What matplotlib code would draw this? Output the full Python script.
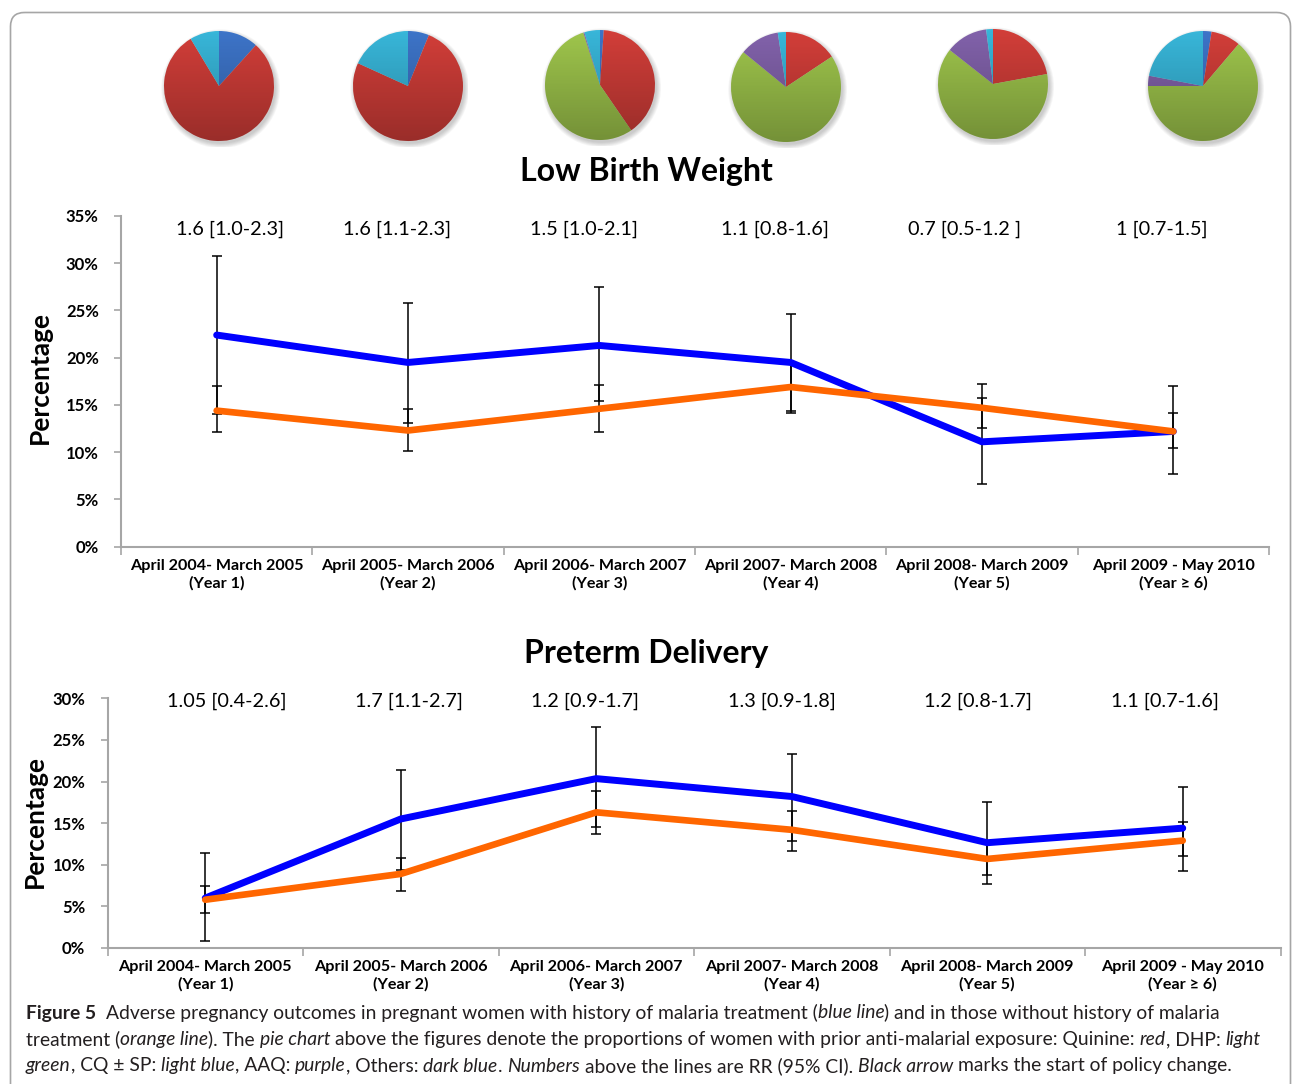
import numpy as np
import matplotlib.pyplot as plt
from matplotlib.patches import Circle, FancyBboxPatch

W, H = 1292, 1084

periods = [
    "April 2004- March 2005\n(Year 1)",
    "April 2005- March 2006\n(Year 2)",
    "April 2006- March 2007\n(Year 3)",
    "April 2007- March 2008\n(Year 4)",
    "April 2008- March 2009\n(Year 5)",
    "April 2009 - May 2010\n(Year \u2265 6)",
]

# share of women per drug with prior anti-malarial exposure, per period (%)
others = [11.7, 6.2, 1.1, 0.0, 0.0, 2.5]
quinine = [79.7, 75.6, 39.3, 15.7, 22.1, 8.7]
dhp = [0.0, 0.0, 54.7, 70.3, 63.5, 63.8]
aaq = [0.0, 0.0, 0.3, 11.7, 12.4, 3.0]
cq_sp = [8.6, 18.2, 4.6, 2.4, 2.0, 22.0]

# low birth weight (%), with / without malaria treatment history, with 95% CI
lbw_with = [22.4, 19.5, 21.3, 19.5, 11.1, 12.2]
lbw_with_lo = [14.0, 13.1, 15.4, 14.4, 6.6, 7.7]
lbw_with_hi = [30.8, 25.8, 27.5, 24.6, 15.7, 17.0]
lbw_without = [14.4, 12.3, 14.6, 16.9, 14.7, 12.2]
lbw_without_lo = [12.1, 10.1, 12.1, 14.2, 12.6, 10.4]
lbw_without_hi = [17.0, 14.6, 17.1, 19.5, 17.2, 14.2]
lbw_rr = ["1.6 [1.0-2.3]", "1.6 [1.1-2.3]", "1.5 [1.0-2.1]",
          "1.1 [0.8-1.6]", "0.7 [0.5-1.2 ]", "1 [0.7-1.5]"]

# preterm delivery (%)
ptd_with = [6.0, 15.5, 20.35, 18.2, 12.65, 14.4]
ptd_with_lo = [0.9, 9.4, 14.5, 12.8, 7.7, 9.3]
ptd_with_hi = [11.4, 21.4, 26.5, 23.3, 17.6, 19.4]
ptd_without = [5.8, 8.9, 16.3, 14.2, 10.7, 12.9]
ptd_without_lo = [4.25, 6.8, 13.7, 11.7, 8.8, 11.0]
ptd_without_hi = [7.45, 10.85, 18.9, 16.5, 12.6, 15.1]
ptd_rr = ["1.05 [0.4-2.6]", "1.7 [1.1-2.7]", "1.2 [0.9-1.7]",
          "1.3 [0.9-1.8]", "1.2 [0.8-1.7]", "1.1 [0.7-1.6]"]

pie_colors = ["#3d74c8", "#d23e39", "#9fc64c", "#8262ab", "#38b6d9"]
FONT = ["Lato", "DejaVu Sans"]
GREY = "#a6a6a6"
INK = "#231f20"

plt.rcParams["font.family"] = FONT

fig = plt.figure(figsize=(W / 100, H / 100), dpi=100)


def px_axes(left, top, right, bottom):
    return fig.add_axes([left / W, 1 - bottom / H, (right - left) / W, (bottom - top) / H])


# full-figure axes in pixel units for the frame, titles and caption
bg = fig.add_axes([0, 0, 1, 1])
bg.set_xlim(0, W)
bg.set_ylim(H, 0)
bg.axis("off")
bg.add_patch(FancyBboxPatch((10.5, 12.5), 1280, 1120,
                            boxstyle="round,pad=0,rounding_size=14",
                            fc="none", ec=GREY, lw=1.2))

# pies, clockwise from 12 o'clock, shaded darker towards the bottom
pie_centres = [(219, 86), (408, 86), (600, 85), (786, 87), (993, 84), (1203, 86)]
shade = np.zeros((256, 1, 4))
shade[..., 3] = np.linspace(0.0, 0.27, 256)[:, None]
for i, (cx, cy) in enumerate(pie_centres):
    pax = px_axes(cx - 60.5, cy - 60.5, cx + 60.5, cy + 60.5)
    vals = [others[i], quinine[i], dhp[i], aaq[i], cq_sp[i]]
    for r in np.linspace(1.0, 1.08, 6):
        pax.add_patch(Circle((0.03, -0.05), r, fc="#000000", alpha=0.035, lw=0, zorder=0))
    pax.pie(vals, colors=pie_colors, startangle=90, counterclock=False,
            wedgeprops=dict(linewidth=0))
    disc = Circle((0, 0), 1.0, transform=pax.transData)
    pax.imshow(shade, extent=(-1, 1, -1, 1), aspect="auto", zorder=5, clip_path=disc)
    pax.set_xlim(-1.1, 1.1)
    pax.set_ylim(-1.1, 1.1)
    pax.axis("off")


def draw_chart(ax, ymax, w, w_lo, w_hi, wo, wo_lo, wo_hi, rr, rr_x, rr_y):
    x = np.arange(1, 7)
    w, w_lo, w_hi = map(np.asarray, (w, w_lo, w_hi))
    wo, wo_lo, wo_hi = map(np.asarray, (wo, wo_lo, wo_hi))
    ax.errorbar(x, w, yerr=[w - w_lo, w_hi - w], fmt="none", ecolor="black",
                elinewidth=1.1, capsize=3.3, capthick=1.1, zorder=2)
    ax.errorbar(x, wo, yerr=[wo - wo_lo, wo_hi - wo], fmt="none", ecolor="black",
                elinewidth=1.1, capsize=3.3, capthick=1.1, zorder=2)
    ax.plot(x, w, color="#0000ff", lw=5, solid_capstyle="round",
            solid_joinstyle="round", zorder=3)
    ax.plot(x, wo, color="#ff6600", lw=4.8, solid_capstyle="round",
            solid_joinstyle="round", zorder=4)
    for xi, label in zip(rr_x, rr):
        ax.text(xi, rr_y, label, ha="center", va="center", fontsize=14.3, color="black")

    ax.set_xlim(0.5, 6.5)
    ax.set_ylim(0, ymax)
    ticks = np.arange(0, ymax + 1, 5)
    ax.set_yticks(ticks)
    ax.set_yticklabels([f"{t}%" for t in ticks], fontsize=12, fontweight="bold")
    ax.set_xticks(np.arange(0.5, 7, 1))
    ax.set_xticklabels([])
    ax.set_xticks(x, minor=True)
    ax.set_xticklabels(periods, minor=True, fontsize=11.6, fontweight="bold",
                       linespacing=1.25)
    ax.tick_params(axis="x", which="minor", length=0, pad=9)
    ax.tick_params(axis="x", which="major", length=6, width=1.2, color=GREY)
    ax.tick_params(axis="y", length=5, width=1.2, color=GREY, pad=11)
    for side in ("top", "right"):
        ax.spines[side].set_visible(False)
    for side in ("left", "bottom"):
        ax.spines[side].set_color(GREY)
        ax.spines[side].set_linewidth(1.5)
    ax.set_facecolor("none")


ax1 = px_axes(121, 216, 1269, 546.7)
draw_chart(ax1, 35, lbw_with, lbw_with_lo, lbw_with_hi,
           lbw_without, lbw_without_lo, lbw_without_hi,
           lbw_rr, [1.07, 1.94, 2.92, 3.92, 4.91, 5.94], 33.6)

ax2 = px_axes(107.5, 698.3, 1280.5, 948)
draw_chart(ax2, 30, ptd_with, ptd_with_lo, ptd_with_hi,
           ptd_without, ptd_without_lo, ptd_without_hi,
           ptd_rr, [1.11, 2.04, 2.94, 3.95, 4.95, 5.91], 29.6)

bg.text(646, 172, "Low Birth Weight", ha="center", va="center",
        fontsize=23, fontweight="bold")
bg.text(646, 654, "Preterm Delivery", ha="center", va="center",
        fontsize=23, fontweight="bold")
bg.text(40, 378, "Percentage", ha="center", va="center", rotation=90,
        fontsize=19, fontweight="bold")
bg.text(35, 822, "Percentage", ha="center", va="center", rotation=90,
        fontsize=19, fontweight="bold")

# caption, written run by run so bold/italic words sit inline
renderer = fig.canvas.get_renderer()
cap_size = 13.9


def text_width(s, **kw):
    t = bg.text(0, 0, s, fontsize=cap_size, **kw)
    w = t.get_window_extent(renderer).width
    t.remove()
    return w


space_w = text_width("x x") - text_width("xx")


def draw_runs(x, y, runs):
    for s, style in runs:
        kw = {"fontweight": "bold"} if style == "b" else {}
        if style == "i":
            kw["fontstyle"] = "italic"
        x += (len(s) - len(s.lstrip(" "))) * space_w
        core = s.strip(" ")
        t = bg.text(x, y, core, ha="left", va="center", fontsize=cap_size,
                    color=INK, **kw)
        x += t.get_window_extent(renderer).width
        x += (len(s) - len(s.rstrip(" "))) * space_w


caption = [
    [("Figure 5", "b"),
     ("  Adverse pregnancy outcomes in pregnant women with history of malaria treatment (", "n"),
     ("blue line", "i"), (") and in those without history of malaria", "n")],
    [("treatment (", "n"), ("orange line", "i"), ("). The ", "n"), ("pie chart", "i"),
     (" above the figures denote the proportions of women with prior anti-malarial exposure: Quinine: ", "n"),
     ("red", "i"), (", DHP: ", "n"), ("light", "i")],
    [("green", "i"), (", CQ \u00b1 SP: ", "n"), ("light blue", "i"), (", AAQ: ", "n"),
     ("purple", "i"), (", Others: ", "n"), ("dark blue", "i"), (". ", "n"),
     ("Numbers", "i"), (" above the lines are RR (95% CI). ", "n"),
     ("Black arrow", "i"), (" marks the start of policy change.", "n")],
]
for row, runs in enumerate(caption):
    draw_runs(26, 1013 + 26.5 * row, runs)

fig.savefig("out.png", dpi=100)
